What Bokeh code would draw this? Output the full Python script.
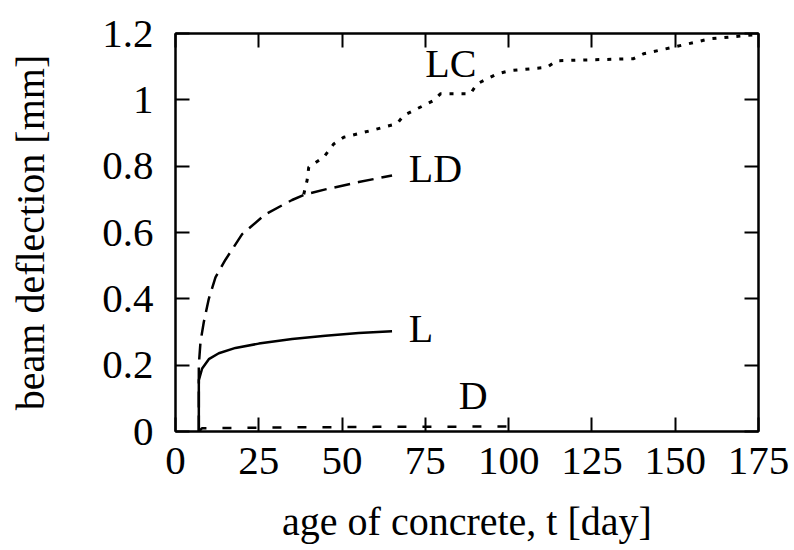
from bokeh.plotting import figure
from bokeh.models import Range1d, LinearAxis, FixedTicker, Label
from bokeh.embed import file_html
from bokeh.resources import INLINE

# ---------------- data ----------------
x_ticks = [0, 25, 50, 75, 100, 125, 150, 175]
y_ticks = [0, 0.2, 0.4, 0.6, 0.8, 1.0, 1.2]
y_tick_labels = ["0", "0.2", "0.4", "0.6", "0.8", "1", "1.2"]

L_day = [7, 7, 8, 10, 13, 18, 25, 35, 45, 55, 65]
L_val = [0, 0.155, 0.19, 0.218, 0.236, 0.252, 0.265, 0.279, 0.289, 0.297, 0.302]

LD_day = [7, 7, 7.5, 8.5, 10, 12, 15, 20, 27, 35, 39, 45, 55, 65]
LD_val = [0, 0.2, 0.27, 0.33, 0.4, 0.465, 0.518, 0.595, 0.655, 0.698, 0.715, 0.73, 0.752, 0.772]

LC_day = [38.5, 39.5, 40, 44.5, 47.5, 50.5, 58.5, 66.5, 68.5, 77.5, 79.5, 88.5,
          90.5, 96.5, 100.5, 111.5, 114.5, 137.5, 140.5, 149.5, 160.5, 171.5, 175]
LC_val = [0.715, 0.757, 0.797, 0.827, 0.867, 0.887, 0.907, 0.928, 0.953, 0.998, 1.018, 1.018,
          1.048, 1.078, 1.088, 1.098, 1.118, 1.124, 1.139, 1.159, 1.184, 1.194, 1.197]

D_day = [7, 8, 30, 60, 100]
D_val = [0, 0.01, 0.012, 0.014, 0.015]

series_names = ["LC", "LD", "L", "D"]
name_day = [75, 70, 70, 85]
name_val = [1.109, 0.793, 0.31, 0.108]

x_label = "age of concrete, t [day]"
y_label = "beam deflection [mm]"

# ---------------- figure ----------------
FONT = "Liberation Serif"
FW, FH = 583, 398

p = figure(frame_width=FW, frame_height=FH,
           min_border_left=175, min_border_right=36,
           min_border_top=33, min_border_bottom=119,
           x_range=Range1d(0, 175), y_range=Range1d(0, 1.2),
           x_axis_location=None, y_axis_location=None,
           output_backend="svg", toolbar_location=None)
p.grid.visible = False
p.background_fill_color = "white"
p.border_fill_color = "white"
p.outline_line_color = "black"
p.outline_line_width = 2

bottom = LinearAxis()
left = LinearAxis()
top = LinearAxis()
right = LinearAxis()
p.add_layout(bottom, "below")
p.add_layout(left, "left")
p.add_layout(top, "above")
p.add_layout(right, "right")

for ax in [bottom, top]:
    ax.ticker = FixedTicker(ticks=x_ticks)
for ax in [left, right]:
    ax.ticker = FixedTicker(ticks=y_ticks)
    ax.major_label_overrides = {t: s for t, s in zip(y_ticks, y_tick_labels)}

for ax in [bottom, left, top, right]:
    ax.major_tick_in = 14
    ax.major_tick_out = 0
    ax.minor_tick_in = 0
    ax.minor_tick_out = 0
    ax.axis_line_width = 2
    ax.axis_line_color = "black"
    ax.major_tick_line_width = 2
    ax.major_tick_line_color = "black"
    ax.major_label_text_font = FONT
    ax.major_label_text_font_size = "41px"
    ax.major_label_text_color = "black"

for ax in [top, right]:
    ax.major_label_text_font_size = "1px"
    ax.major_label_text_color = None
    ax.major_label_standoff = 0

bottom.major_label_standoff = 16
left.major_label_standoff = 22

left.axis_label = y_label
left.axis_label_text_font = FONT
left.axis_label_text_font_size = "40px"
left.axis_label_text_font_style = "normal"
left.axis_label_text_color = "black"
left.axis_label_standoff = 46

bottom.axis_label = x_label
bottom.axis_label_text_font = FONT
bottom.axis_label_text_font_size = "40px"
bottom.axis_label_text_font_style = "normal"
bottom.axis_label_text_color = "black"
bottom.axis_label_standoff = 22

# ---------------- curves ----------------
p.line(LD_day, LD_val, line_color="black", line_width=2.5, line_dash="16 8")
p.line(LC_day, LC_val, line_color="black", line_width=3, line_dash="4 8")
p.line(D_day, D_val, line_color="black", line_width=2.5, line_dash="9 16")
p.line(L_day, L_val, line_color="black", line_width=2.5)

for name, d, v in zip(series_names, name_day, name_val):
    p.add_layout(Label(x=d, y=v, text=name, text_font=FONT, text_font_size="40px",
                       text_color="black", text_align="left", text_baseline="alphabetic"))

open("out.html", "w").write(file_html(p, INLINE))
